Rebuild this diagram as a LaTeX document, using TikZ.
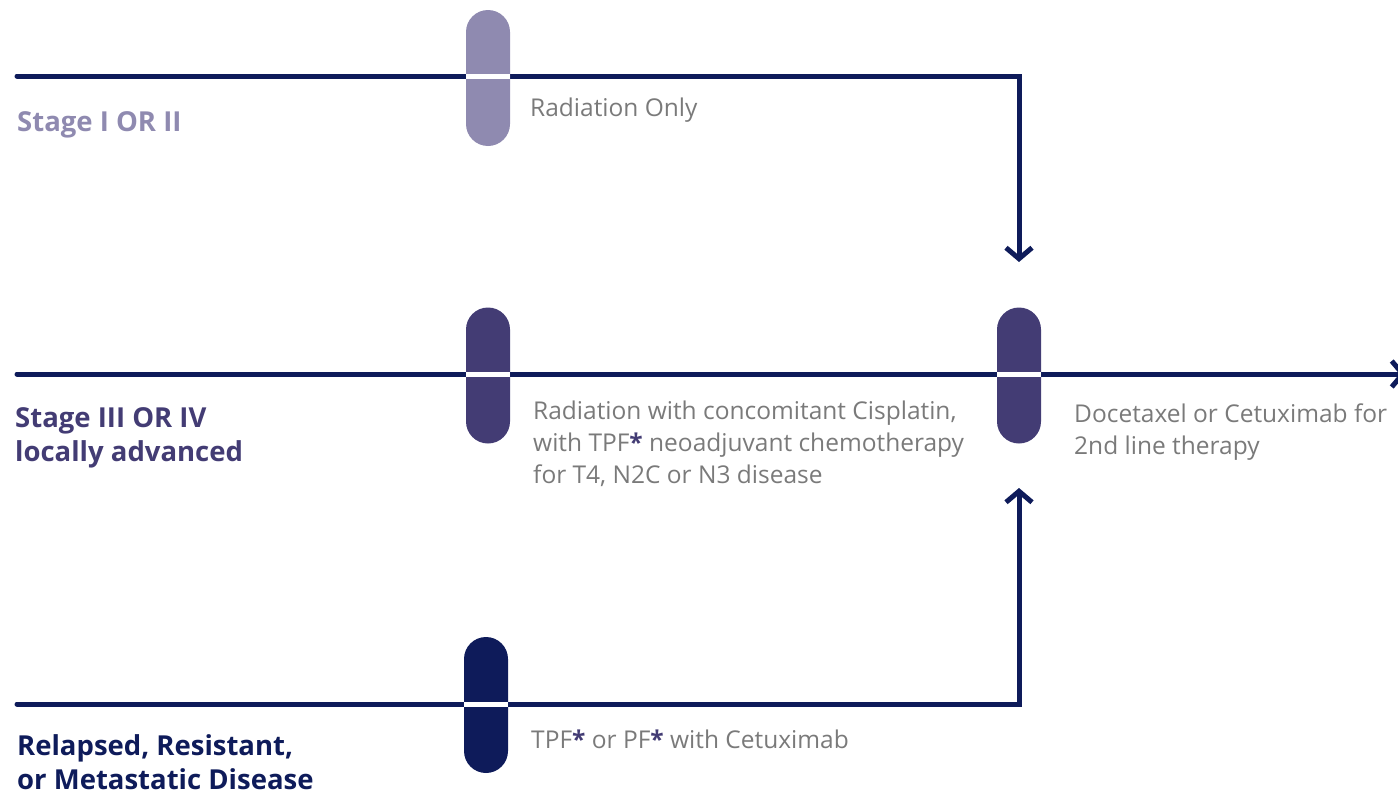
\documentclass[tikz,border=0pt]{standalone}
\usepackage{fontspec}
\setmainfont{Open Sans}
\usetikzlibrary{arrows.meta}
\definecolor{navy}{HTML}{0E1B5A}
\definecolor{lilac}{HTML}{8F8AB0}
\definecolor{indigo}{HTML}{433C74}
\definecolor{txtgray}{HTML}{7A7A7A}
\begin{document}
\begin{tikzpicture}[x=1pt,y=-1pt,
  flow/.style={draw=navy,line width=5pt,line cap=round},
  chev/.style={-{Straight Barb[length=11pt,width=26pt,line width=5pt]}},
  capsule/.style={fill=#1,draw=none,rectangle,rounded corners=22pt,
    minimum width=44pt,minimum height=136pt,inner sep=0pt},
  gap/.style={draw=white,line width=5pt},
  note/.style={anchor=west,text=txtgray,font=\fontsize{24.5}{32}\selectfont,align=left,inner sep=0pt},
  stage/.style={anchor=west,text=#1,font=\fontsize{27.5}{34}\selectfont\bfseries,align=left,inner sep=0pt}]
\useasboundingbox (0,0) rectangle (1398,795);
\newcommand{\mystar}{\textcolor{indigo}{\textbf{*}}}

% track ends and bends
\coordinate (s1) at (17,76);
\coordinate (c1) at (1019,76);
\coordinate (s2) at (17,374);
\coordinate (e2) at (1406,374);
\coordinate (s3) at (17,704);
\coordinate (c3) at (1019,704);
\coordinate (t1) at (1019,262);
\coordinate (t3) at (1019,488);

% tracks
\draw[flow,chev] (s1) -- (c1) -- (t1);
\draw[flow,chev] (s3) -- (c3) -- (t3);
\begin{scope}
\clip (0,0) rectangle (1398,795);
\draw[flow,chev] (s2) -- (e2);
\end{scope}

% capsules sitting on the tracks, each split by a white band
\node[capsule=lilac]  (p1) at (488,78) {};
\node[capsule=indigo] (p2) at (488,375.5) {};
\node[capsule=indigo] (p3) at (1019,375.5) {};
\node[capsule=navy]   (p4) at (486,705) {};
\draw[gap] (p1.west |- s1) -- (p1.east |- s1);
\draw[gap] (p2.west |- s2) -- (p2.east |- s2);
\draw[gap] (p3.west |- s2) -- (p3.east |- s2);
\draw[gap] (p4.west |- s3) -- (p4.east |- s3);

% stage labels
\node[stage=lilac] (l1) at (17,125) {Stage I OR II};
\node[stage=indigo] (l2) at (15,438) {Stage III OR IV\\locally advanced};
\node[stage=navy] (l3) at (17,762) {Relapsed, Resistant,\\or Metastatic Disease};

% treatment notes
\node[note] (n1) at (530,110) {Radiation Only};
\node[note] (n2) at (533,444) {Radiation with concomitant Cisplatin,\\with TPF\mystar{} neoadjuvant chemotherapy\\for T4, N2C or N3 disease};
\node[note] (n3) at (1074,432) {Docetaxel or Cetuximab for\\2nd line therapy};
\node[note] (n4) at (531,739) {TPF\mystar{} or PF\mystar{} with Cetuximab};
\end{tikzpicture}
\end{document}
